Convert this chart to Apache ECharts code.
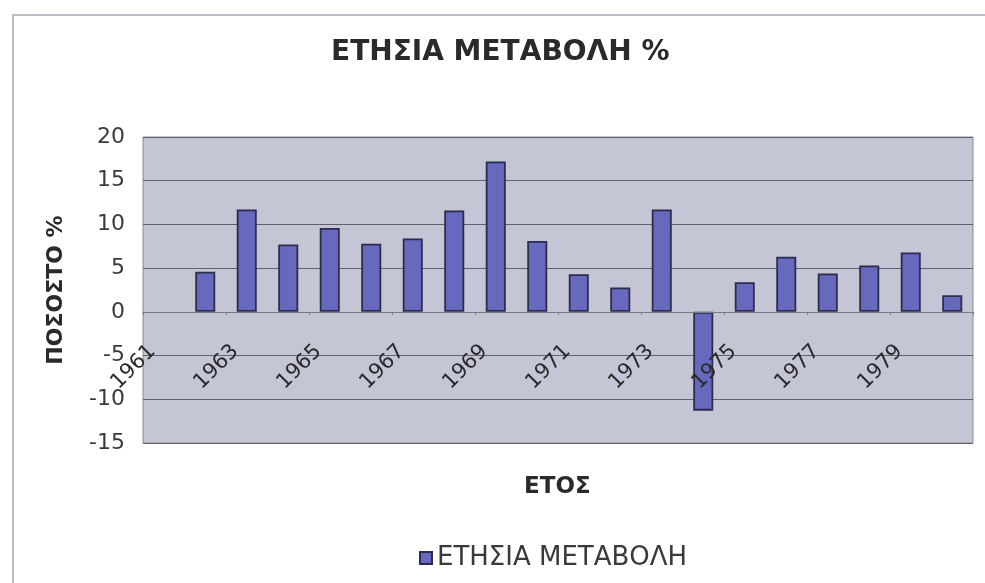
<!DOCTYPE html>
<html>
<head>
<meta charset="utf-8">
<script src="https://cdn.jsdelivr.net/npm/echarts@6/dist/echarts.min.js"></script>
<style>
  html, body { margin: 0; padding: 0; background: #ffffff; }
  #chart { width: 985px; height: 583px; }
</style>
</head>
<body>
<div id="chart"></div>
<script>
// χρονιές και ετήσια μεταβολή % (1961 χωρίς τιμή)
var years = ["1961", "1962", "1963", "1964", "1965", "1966", "1967", "1968", "1969", "1970",
             "1971", "1972", "1973", "1974", "1975", "1976", "1977", "1978", "1979", "1980"];
var changes = [null, 4.6, 11.7, 7.7, 9.6, 7.8, 8.4, 11.6, 17.2, 8.1,
               4.3, 2.8, 11.7, -11.3, 3.4, 6.3, 4.4, 5.3, 6.8, 1.9];
var yTicks = [-15, -10, -5, 0, 5, 10, 15, 20];

var chart = echarts.init(document.getElementById("chart"));

// plot area in pixels, the x axis is moved up to the zero line
var gridTop = 137, gridBottom = 140, plotH = 583 - gridTop - gridBottom;
var zeroOffset = -plotH * (0 - yTicks[0]) / (yTicks[yTicks.length - 1] - yTicks[0]);

var option = {
  backgroundColor: "#ffffff",
  animation: false,
  textStyle: { fontFamily: "DejaVu Sans, sans-serif" },
  title: [
    {
      text: "ΕΤΗΣΙΑ ΜΕΤΑΒΟΛΗ %",
      left: 326,
      top: 34,
      textStyle: { fontSize: 28, fontWeight: "bold", color: "#2a2a2a" }
    },
    {
      text: "ΕΤΟΣ",
      left: 519,
      top: 471,
      textStyle: { fontSize: 23, fontWeight: "bold", color: "#2a2a2a" }
    }
  ],
  legend: {
    data: ["ΕΤΗΣΙΑ ΜΕΤΑΒΟΛΗ"],
    left: 414,
    top: 540,
    itemWidth: 12,
    itemHeight: 12,
    itemGap: 8,
    icon: "rect",
    textStyle: { fontSize: 26, color: "#3a3a3a" }
  },
  grid: {
    left: 143,
    right: 12,
    top: gridTop,
    bottom: gridBottom,
    show: true,
    backgroundColor: "#c4c5d5",
    borderColor: "#8a8a94",
    borderWidth: 1
  },
  xAxis: {
    type: "category",
    data: years,
    zlevel: 1,
    z: 10,
    offset: zeroOffset,
    axisLine: { onZero: false, lineStyle: { color: "#7a7a86", width: 1 } },
    axisTick: { show: true, length: 3, lineStyle: { color: "#7a7a86" } },
    axisLabel: {
      interval: 1,
      rotate: 45,
      margin: 25,
      padding: [0, 16, 0, 0],
      fontSize: 21,
      color: "#2a2a2a"
    }
  },
  yAxis: {
    type: "value",
    min: yTicks[0],
    max: yTicks[yTicks.length - 1],
    interval: 5,
    name: "ΠΟΣΟΣΤΟ %",
    nameLocation: "middle",
    nameGap: 76,
    nameTextStyle: { fontSize: 22, fontWeight: "bold", color: "#2a2a2a" },
    axisLine: { show: false },
    axisTick: { show: false },
    axisLabel: { fontSize: 22, color: "#3a3a3a", margin: 18 },
    splitLine: { lineStyle: { color: "#62626e", width: 1 } }
  },
  series: [
    {
      name: "ΕΤΗΣΙΑ ΜΕΤΑΒΟΛΗ",
      type: "bar",
      data: changes,
      barWidth: 20,
      z: 1,
      itemStyle: {
        color: "#6669bd",
        borderColor: "#2c2c4c",
        borderWidth: 1.8
      }
    }
  ],
  graphic: [
    {
      type: "rect",
      shape: { x: 13, y: 15, width: 990, height: 600 },
      style: { fill: "none", stroke: "#a8a8b0", lineWidth: 1.5 },
      silent: true
    }
  ]
};

chart.setOption(option);
</script>
</body>
</html>
